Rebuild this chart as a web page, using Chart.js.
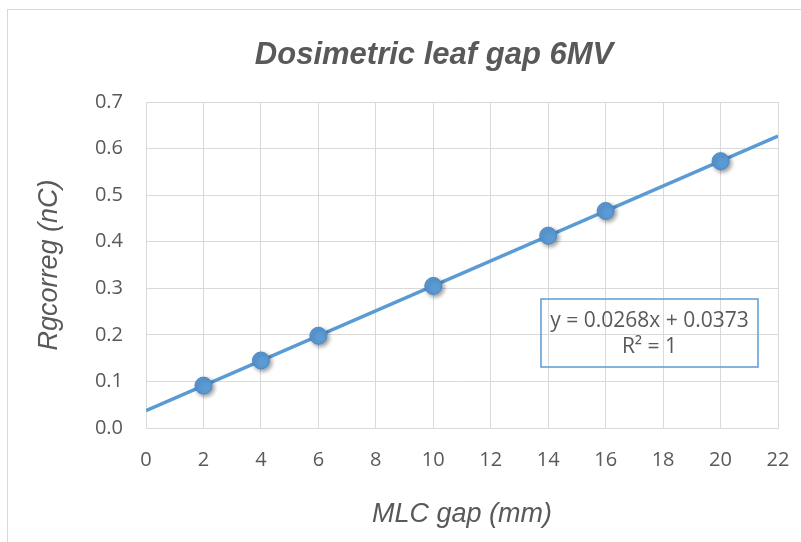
<!DOCTYPE html>
<html lang="en">
<head>
  <meta charset="UTF-8">
  <title>Dosimetric leaf gap 6MV</title>
  <style>
    body { margin: 0; background: #fff; }
    .frame {
      position: absolute; left: 7px; top: 9px; width: 820px; height: 560px;
      border: 1px solid #d9d9d9;
    }
    .chart-box { position: absolute; left: 0; top: 0; width: 801px; height: 542px; }
  </style>
  <script src="https://cdn.jsdelivr.net/npm/chart.js"></script>
</head>
<body>
  <div class="frame"></div>
  <div class="chart-box"><canvas id="dlgChart" width="801" height="542"></canvas></div>
  <script>
    // measured points
    const gapMm = [2, 4, 6, 10, 14, 16, 20];
    const chargeNc = [0.091, 0.145, 0.198, 0.305, 0.413, 0.466, 0.573];

    // Excel linear trendline
    const slope = 0.0268;
    const intercept = 0.0373;
    const trendX = [0, 22];
    const equationLines = ['y = 0.0268x + 0.0373', 'R² = 1'];

    const xTicks = [0, 2, 4, 6, 8, 10, 12, 14, 16, 18, 20, 22];
    const yTicks = [0, 0.1, 0.2, 0.3, 0.4, 0.5, 0.6, 0.7];

    const chartTitle = 'Dosimetric leaf gap 6MV';

    const blue = '#5b9bd5';
    const textGrey = '#595959';
    const gridGrey = '#d9d9d9';
    const tickFont = { family: '"Open Sans", "Liberation Sans", sans-serif', size: 20 };
    const axisTitleFont = { family: '"Liberation Sans", Arial, sans-serif', size: 27, style: 'italic' };

    // shadow under the markers
    const markerShadow = {
      id: 'markerShadow',
      beforeDatasetDraw(chart, args) {
        if (args.index !== 0) return;
        const ctx = chart.ctx;
        ctx.save();
        ctx.shadowColor = 'rgba(0,0,0,0.4)';
        ctx.shadowBlur = 4;
        ctx.shadowOffsetX = 2;
        ctx.shadowOffsetY = 2;
      },
      afterDatasetDraw(chart, args) {
        if (args.index !== 0) return;
        chart.ctx.restore();
      }
    };

    // title (placed like Excel does, a bit left of the plot centre) + equation label
    const extras = {
      id: 'extras',
      afterDraw(chart) {
        const ctx = chart.ctx;
        const area = chart.chartArea;
        ctx.save();
        ctx.fillStyle = textGrey;
        ctx.textAlign = 'center';
        ctx.textBaseline = 'middle';
        ctx.font = 'italic bold 31px "Liberation Sans", Arial, sans-serif';
        ctx.fillText(chartTitle, 434, 55);

        const x0 = area.left + 395, y0 = area.top + 197;
        const w = 217, h = 68;
        ctx.strokeStyle = blue;
        ctx.lineWidth = 1.5;
        ctx.strokeRect(x0, y0, w, h);
        ctx.font = '21px "Open Sans", "Liberation Sans", sans-serif';
        ctx.fillText(equationLines[0], x0 + w / 2, y0 + 22);
        ctx.fillText(equationLines[1], x0 + w / 2, y0 + 48);
        ctx.restore();
      }
    };

    new Chart(document.getElementById('dlgChart').getContext('2d'), {
      type: 'scatter',
      data: {
        datasets: [
          {
            label: 'Rgcorreg',
            data: gapMm.map((x, i) => ({ x: x, y: chargeNc[i] })),
            backgroundColor: blue,
            borderColor: '#4a8ac6',
            borderWidth: 1,
            pointRadius: 8.5,
            pointHoverRadius: 8.5,
            order: 0
          },
          {
            label: 'Linear trend',
            type: 'line',
            data: trendX.map(x => ({ x: x, y: slope * x + intercept })),
            borderColor: blue,
            borderWidth: 3.5,
            pointRadius: 0,
            fill: false,
            order: 1
          }
        ]
      },
      options: {
        responsive: false,
        animation: false,
        layout: { padding: { left: 0, right: 23, top: 102, bottom: 0 } },
        plugins: {
          legend: { display: false },
          tooltip: { enabled: false },
          title: { display: false }
        },
        scales: {
          x: {
            type: 'linear',
            min: 0,
            max: 22,
            afterBuildTicks: scale => { scale.ticks = xTicks.map(v => ({ value: v })); },
            afterFit: scale => {
              scale.height = 114;
              scale.paddingLeft = 0;
              scale.paddingRight = 0;
            },
            grid: { color: gridGrey, drawTicks: false },
            border: { color: gridGrey },
            ticks: { color: textGrey, font: tickFont, padding: 20 },
            title: {
              display: true,
              text: 'MLC gap (mm)',
              color: textGrey,
              font: axisTitleFont,
              padding: { top: 0, bottom: 11 }
            }
          },
          y: {
            min: 0,
            max: 0.7,
            afterBuildTicks: scale => { scale.ticks = yTicks.map(v => ({ value: v })); },
            afterFit: scale => { scale.width = 146; },
            grid: { color: gridGrey, drawTicks: false },
            border: { color: gridGrey },
            ticks: {
              color: textGrey,
              font: tickFont,
              padding: 23,
              callback: v => v.toFixed(1)
            },
            title: {
              display: true,
              text: 'Rgcorreg (nC)',
              color: textGrey,
              font: axisTitleFont,
              padding: { top: 33, bottom: 0 }
            }
          }
        }
      },
      plugins: [markerShadow, extras]
    });
  </script>
</body>
</html>
